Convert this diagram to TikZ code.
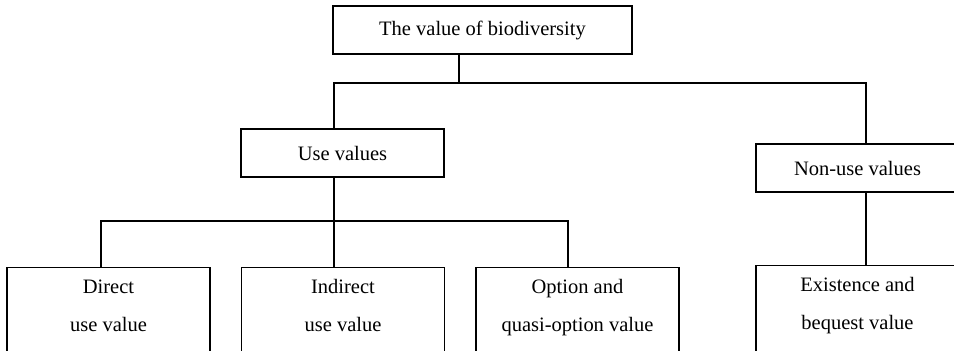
\documentclass[tikz,border=0pt]{standalone}
\usepackage{fontspec}
\setmainfont{Liberation Serif}
\usepackage{tikz}

\begin{document}
\begin{tikzpicture}[x=1pt, y=-1pt,
  valbox/.style={draw, line width=1.1pt, minimum width=203pt, minimum height=48pt,
    inner sep=0pt, font=\fontsize{20.5}{38}\selectfont, align=center},
  leafbox/.style={valbox, minimum height=100pt, text depth=24pt, anchor=north},
  link/.style={line width=1.1pt}]
  \clip (0,0) rectangle (954,351);
  % Top of the tree
  \node[valbox, minimum width=299pt] (bio) at (482.5, 30) {The value of biodiversity};
  \node[valbox] (use) at (342.5, 153) {Use values};
  \node[valbox] (nonuse) at (857.5, 168) {Non-use values};

  % Bottom row
  \node[leafbox] (direct) at (108.5, 267) {Direct\\use value};
  \node[leafbox] (indirect) at (343, 267) {Indirect\\use value};
  \node[leafbox] (option) at (577.5, 267) {Option and\\quasi-option value};
  \node[leafbox] (exist) at (857.5, 265) {Existence and\\bequest value};

  % Branch points
  \coordinate (top) at (459, 83);
  \coordinate (left) at (334, 83);
  \coordinate (right) at (866, 83);
  \coordinate (mid) at (334, 221);
  \coordinate (d) at (101, 221);
  \coordinate (o) at (568, 221);

  \draw[link] (top |- bio.south) -- (top);
  \draw[link] (left |- use.north) -- (left) -- (right) -- (right |- nonuse.north);
  \draw[link] (left |- use.south) -- (mid |- indirect.north);
  \draw[link] (d |- direct.north) -- (d) -- (o) -- (o |- option.north);
  \draw[link] (right |- nonuse.south) -- (right |- exist.north);
\end{tikzpicture}
\end{document}
